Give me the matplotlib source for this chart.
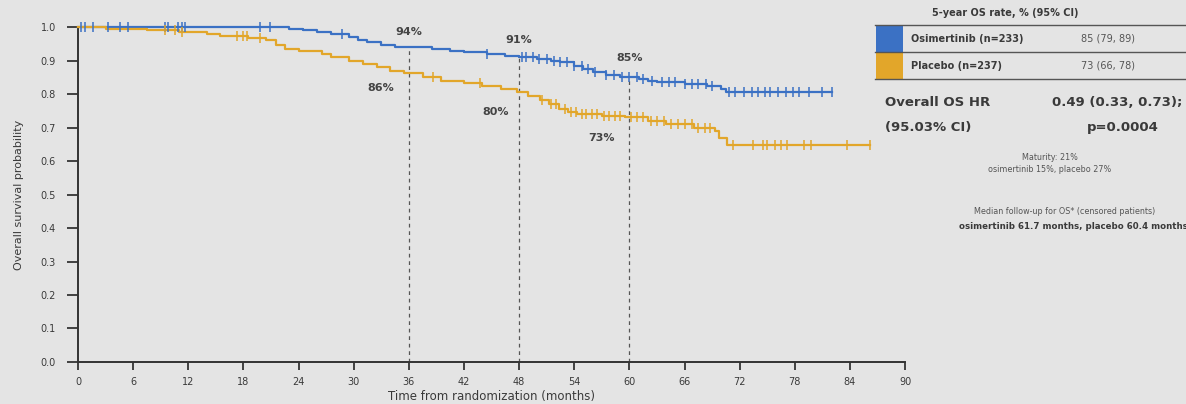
import numpy as np
import matplotlib
matplotlib.use("Agg")
import matplotlib.pyplot as plt
from matplotlib.patches import Rectangle
from matplotlib.lines import Line2D

# ---- Kaplan-Meier step data (event times in months, survival after step) ----
osi_times = [0, 23.0, 24.5, 26.0, 27.5, 29.5, 30.5, 31.5, 33.0, 34.5, 38.5, 40.5,
             42.0, 44.5, 46.5, 48.0, 50.0, 51.5, 52.5, 54.0, 55.0, 56.0, 57.5,
             59.0, 61.0, 62.0, 63.0, 66.0, 68.5, 70.0, 70.5]
osi_surv = [1.0, 0.995, 0.99, 0.985, 0.98, 0.97, 0.96, 0.955, 0.945, 0.94, 0.935,
            0.93, 0.925, 0.92, 0.915, 0.91, 0.905, 0.90, 0.895, 0.885, 0.875,
            0.865, 0.857, 0.85, 0.845, 0.84, 0.835, 0.83, 0.825, 0.815, 0.805]
osi_end = 82.0
osi_censor = [0.3, 0.8, 1.6, 3.3, 4.6, 5.4, 9.5, 9.8, 10.9, 11.3, 11.6, 19.8, 20.9,
              28.7, 44.5, 48.3, 48.8, 49.5, 50.2, 51.0, 51.8, 52.5, 53.2, 54.0,
              54.8, 55.5, 56.3, 57.5, 58.3, 59.2, 60.0, 60.8, 61.5, 62.5, 63.5,
              64.3, 65.0, 66.0, 66.8, 67.5, 68.3, 69.0, 70.8, 71.5, 72.5, 73.3,
              74.0, 74.8, 75.3, 76.2, 77.0, 77.8, 78.5, 79.5, 81.0, 82.0]

pbo_times = [0, 3.0, 7.5, 11.0, 14.0, 15.5, 18.5, 20.5, 21.5, 22.5, 24.0, 26.5,
             27.5, 29.5, 31.0, 32.5, 34.0, 35.5, 37.5, 39.5, 42.0, 44.0, 46.0,
             47.8, 49.0, 50.3, 51.2, 52.3, 53.3, 54.3, 57.0, 59.5, 62.0, 64.0,
             67.0, 69.3, 69.8, 70.6]
pbo_surv = [1.0, 0.995, 0.99, 0.986, 0.98, 0.974, 0.968, 0.96, 0.945, 0.935, 0.93,
            0.92, 0.91, 0.90, 0.89, 0.88, 0.87, 0.862, 0.85, 0.84, 0.833, 0.825,
            0.815, 0.805, 0.795, 0.782, 0.77, 0.755, 0.745, 0.74, 0.735, 0.73,
            0.72, 0.71, 0.70, 0.69, 0.668, 0.648]
pbo_end = 86.2
pbo_censor = [9.5, 10.5, 11.3, 17.3, 18.0, 18.4, 19.8, 38.6, 43.7, 50.5, 51.5,
              52.0, 53.0, 53.6, 54.2, 54.8, 55.3, 55.9, 56.5, 57.2, 57.8, 58.4,
              59.0, 60.2, 60.8, 61.5, 62.3, 63.0, 63.8, 64.5, 65.3, 66.0, 66.8,
              67.5, 68.2, 68.8, 71.3, 73.5, 74.5, 75.0, 75.8, 76.5, 77.2, 79.0,
              79.8, 83.7, 86.2]

# Landmark annotations
landmarks = [36, 48, 60]
osi_rates = [0.94, 0.91, 0.85]
pbo_rates = [0.86, 0.80, 0.73]
osi_label_pos = [(36, 0.985), (48, 0.962), (60, 0.908)]
pbo_label_pos = [(32.9, 0.818), (45.4, 0.746), (57.0, 0.669)]

x_ticks = list(range(0, 91, 6))
y_ticks = [round(0.1 * i, 1) for i in range(11)]

BG = "#e4e4e4"
BLUE = "#3b71c4"
ORANGE = "#e2a62a"
TXT = "#3a3a3a"


def km_survival(times, surv, t):
    idx = np.searchsorted(times, t, side="right") - 1
    return np.asarray(surv)[idx]


fig = plt.figure(figsize=(11.86, 4.04), dpi=100, facecolor=BG)
ax = fig.add_axes([0.0658, 0.104, 0.6973, 0.829], facecolor=BG)

for times, surv, end, cens, col in [
    (osi_times, osi_surv, osi_end, osi_censor, BLUE),
    (pbo_times, pbo_surv, pbo_end, pbo_censor, ORANGE),
]:
    xs = list(times) + [end]
    ys = list(surv) + [surv[-1]]
    ax.step(xs, ys, where="post", color=col, lw=1.6, clip_on=False, zorder=3)
    cy = km_survival(times, surv, np.array(cens))
    ax.plot(cens, cy, ls="none", marker="|", ms=7, mew=1.1, color=col,
            clip_on=False, zorder=4)

for m, r in zip(landmarks, osi_rates):
    ax.plot([m, m], [0, r], ls=(0, (3, 3)), color="#555555", lw=0.9, zorder=2)

for (x, y), r in zip(osi_label_pos, osi_rates):
    ax.text(x, y, f"{round(r * 100)}%", ha="center", va="center",
            fontsize=8, fontweight="bold", color="#444444")
for (x, y), r in zip(pbo_label_pos, pbo_rates):
    ax.text(x, y, f"{round(r * 100)}%", ha="center", va="center",
            fontsize=8, fontweight="bold", color="#444444")

ax.set_xlim(0, 90)
ax.set_ylim(0, 1.0)
ax.set_xticks(x_ticks)
ax.set_xticklabels([str(t) for t in x_ticks], fontsize=7, color=TXT)
ax.set_yticks(y_ticks)
ax.set_yticklabels([f"{t:.1f}" for t in y_ticks], fontsize=7, color=TXT)
ax.tick_params(axis="x", direction="out", length=6, width=1.3,
               color="#333333", pad=5)
ax.tick_params(axis="y", direction="out", length=8, width=1.3,
               color="#333333", pad=8)
for side in ["top", "right"]:
    ax.spines[side].set_visible(False)
for side in ["left", "bottom"]:
    ax.spines[side].set_color("#333333")
    ax.spines[side].set_linewidth(1.4)

ax.set_ylabel("Overall survival probability", fontsize=8, color=TXT, labelpad=12)
ax.set_xlabel("Time from randomization (months)", fontsize=8.5,
              color=TXT, labelpad=2)

# ---- Right-hand summary table ----
def fx(px):
    return px / 1186


def fy(py):
    return 1 - py / 404


fig.text(fx(1005), fy(13), "5-year OS rate, % (95% CI)", fontsize=7,
         fontweight="bold", color=TXT, ha="center", va="center")
for py in (25, 52, 79):
    fig.add_artist(Line2D([fx(875), fx(1186)], [fy(py), fy(py)],
                          color="#555555", lw=1.0, transform=fig.transFigure))

rows = [("Osimertinib (n=233)", "85 (79, 89)", BLUE, 25, 52),
        ("Placebo (n=237)", "73 (66, 78)", ORANGE, 53, 79)]
for name, val, col, top, bot in rows:
    fig.add_artist(Rectangle((fx(876), fy(bot)), fx(903) - fx(876),
                             fy(top) - fy(bot), transform=fig.transFigure,
                             facecolor=col, edgecolor="none"))
    mid = (top + bot) / 2
    fig.text(fx(911), fy(mid), name, fontsize=7, fontweight="bold",
             color=TXT, ha="left", va="center")
    fig.text(fx(1108), fy(mid), val, fontsize=7, color="#555555",
             ha="center", va="center")

fig.text(fx(885), fy(102), "Overall OS HR", fontsize=9.5, fontweight="bold",
         color=TXT, ha="left", va="center")
fig.text(fx(885), fy(127), "(95.03% CI)", fontsize=9.5, fontweight="bold",
         color=TXT, ha="left", va="center")
fig.text(fx(1117), fy(102), "0.49 (0.33, 0.73);", fontsize=9.5,
         fontweight="bold", color=TXT, ha="center", va="center")
fig.text(fx(1123), fy(127), "p=0.0004", fontsize=9.5, fontweight="bold",
         color=TXT, ha="center", va="center")

fig.text(fx(1050), fy(157), "Maturity: 21%", fontsize=5.8, color="#555555",
         ha="center", va="center")
fig.text(fx(1050), fy(170), "osimertinib 15%, placebo 27%", fontsize=5.8,
         color="#555555", ha="center", va="center")
fig.text(fx(1065), fy(212), "Median follow-up for OS* (censored patients)",
         fontsize=5.8, color="#555555", ha="center", va="center")
fig.text(fx(1073), fy(226), "osimertinib 61.7 months, placebo 60.4 months",
         fontsize=6.2, fontweight="bold", color=TXT, ha="center", va="center")

fig.savefig("out.png", dpi=100, facecolor=BG)
